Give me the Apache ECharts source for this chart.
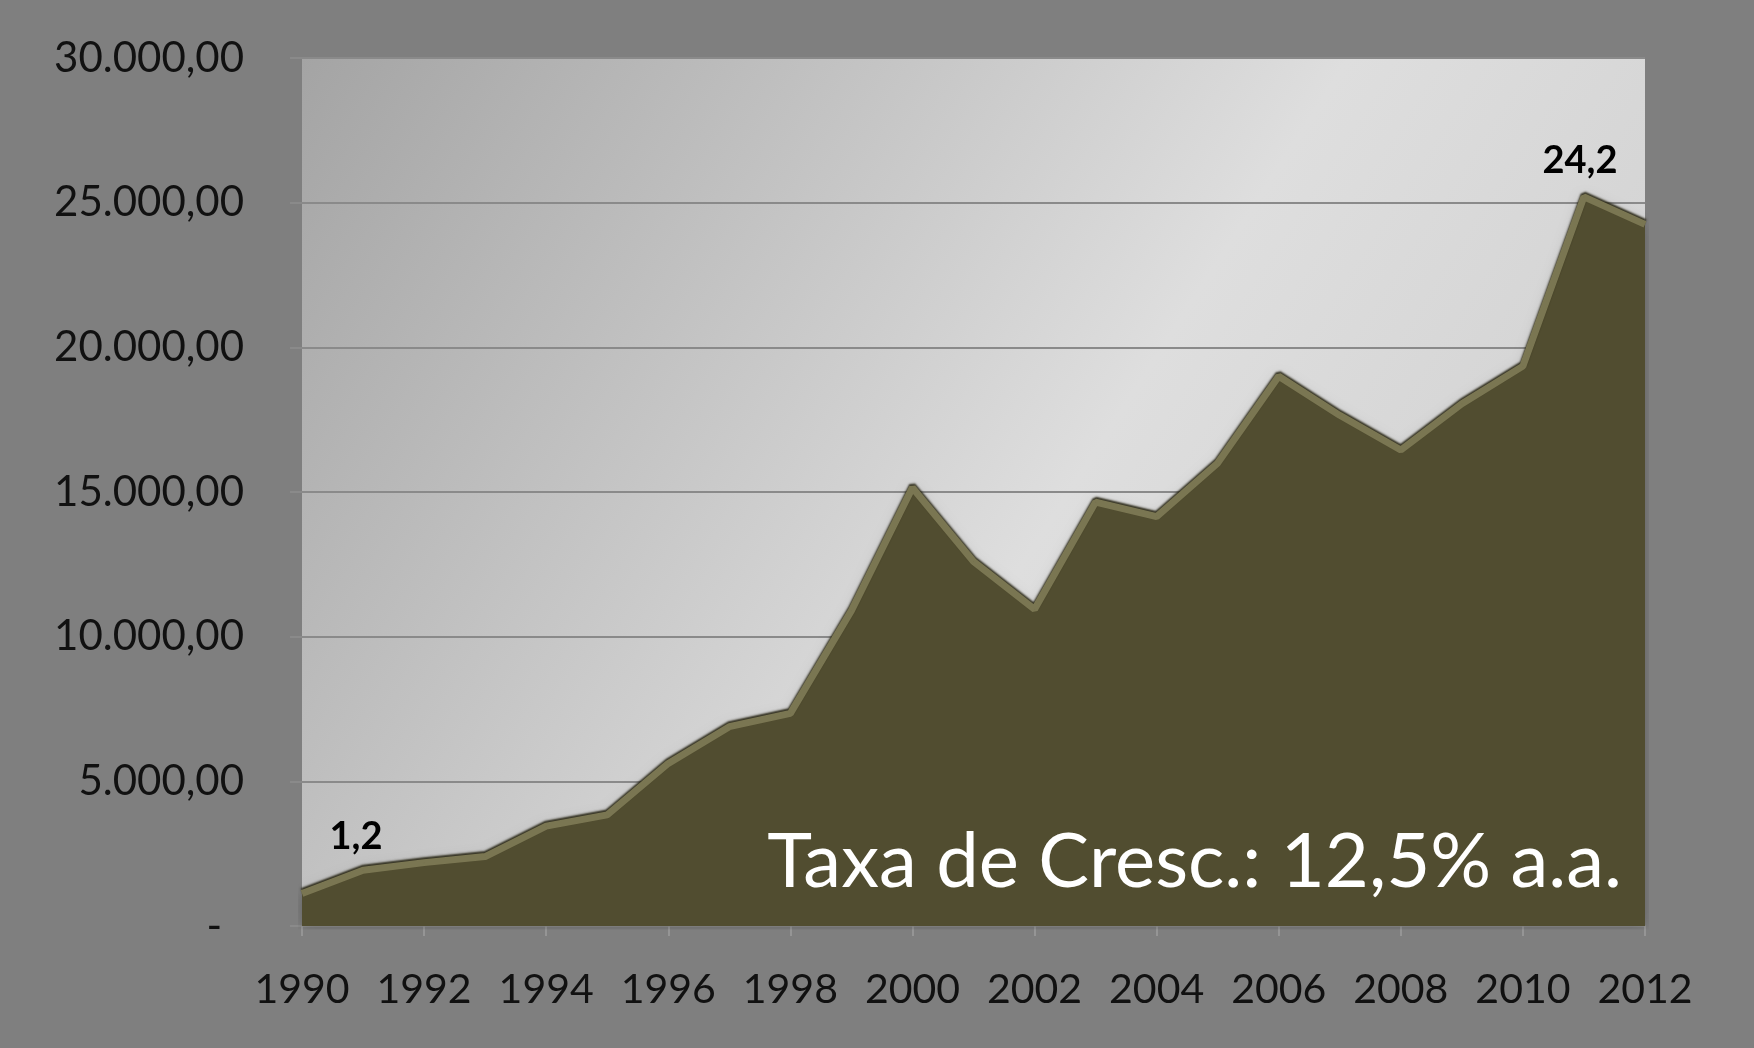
<!DOCTYPE html>
<html lang="pt">
<head>
    <meta charset="UTF-8">
    <title>Taxa de Cresc.</title>
    <style type="text/css">
    html,
    body {
        width: 100%;
        height: 100%;
        margin: 0;
        padding: 0;
        background: #808080;
    }

    #chart {
        width: 1754px;
        height: 1048px;
    }
    </style>
</head>
<body>
    <div id="chart"></div>
    <script src="https://cdn.jsdelivr.net/npm/echarts@6/dist/echarts.min.js"></script>
    <script type="text/javascript">

    // dados
    var years = ['1990', '1991', '1992', '1993', '1994', '1995', '1996', '1997', '1998', '1999', '2000', '2001',
        '2002', '2003', '2004', '2005', '2006', '2007', '2008', '2009', '2010', '2011', '2012'];
    var values = [1120, 1930, 2190, 2400, 3450, 3840, 5620, 6890, 7350, 10900, 15150, 12600,
        10950, 14650, 14150, 16000, 19000, 17650, 16450, 18050, 19350, 25200, 24250];
    var pointLabels = { 0: '1,2', 22: '24,2' };
    var yTicks = [0, 5000, 10000, 15000, 20000, 25000, 30000];
    var note = 'Taxa de Cresc.: 12,5% a.a.';

    var font = 'Lato, "Open Sans", sans-serif';

    // 30000 -> 30.000,00
    function fmtNum(v) {
        if (v == 0) return '{dash|-}';
        var s = String(Math.round(v));
        var out = '';
        while (s.length > 3) {
            out = '.' + s.slice(-3) + out;
            s = s.slice(0, -3);
        }
        return s + out + ',00';
    }

    var labelOffsets = { 0: [54, -32], 22: [-65, -39] };

    var seriesData = [];
    for (var i = 0; i < values.length; i++) {
        var item = { value: values[i] };
        if (pointLabels[i]) {
            item.label = {
                show: true,
                position: 'top',
                formatter: pointLabels[i],
                offset: labelOffsets[i],
                fontFamily: font,
                fontWeight: 'bold',
                fontSize: 38,
                color: '#000'
            };
        }
        seriesData.push(item);
    }

    var chart = echarts.init(document.getElementById('chart'));

    var option = {
        backgroundColor: '#7f7f7f',
        animation: false,
        grid: {
            left: 302,
            right: 109,
            top: 58,
            bottom: 122,
            show: true,
            borderWidth: 0,
            backgroundColor: {
                type: 'linear',
                x: 0, y: 0, x2: 1, y2: 1,
                colorStops: [
                    { offset: 0, color: '#a4a4a4' },
                    { offset: 0.55, color: '#dedede' },
                    { offset: 1, color: '#cbcbcb' }
                ]
            }
        },
        xAxis: {
            type: 'category',
            data: years,
            boundaryGap: false,
            axisLine: { lineStyle: { color: '#8d8d8d', width: 2 } },
            axisTick: { interval: 1, length: 10, lineStyle: { color: '#959595', width: 2 } },
            axisLabel: {
                interval: 1,
                margin: 43,
                fontFamily: font,
                fontSize: 41,
                color: '#111'
            },
            splitLine: { show: false }
        },
        yAxis: {
            type: 'value',
            min: yTicks[0],
            max: yTicks[yTicks.length - 1],
            interval: 5000,
            axisLine: { show: false },
            axisTick: { show: true, length: 12, lineStyle: { color: '#8a8a8a', width: 2 } },
            axisLabel: {
                margin: 58,
                fontFamily: font,
                fontSize: 42,
                color: '#111',
                formatter: fmtNum,
                rich: {
                    dash: { fontFamily: font, fontSize: 42, color: '#111', padding: [0, 22, 0, 0] }
                }
            },
            splitLine: { lineStyle: { color: '#8a8a8a', width: 2 } }
        },
        series: [{
            type: 'line',
            data: seriesData,
            symbol: 'circle',
            symbolSize: 1,
            showSymbol: true,
            itemStyle: { color: '#76724f' },
            lineStyle: {
                color: '#7a7652',
                width: 7,
                shadowColor: 'rgba(35,33,15,0.9)',
                shadowBlur: 2,
                shadowOffsetY: -2
            },
            areaStyle: {
                color: '#514d30',
                opacity: 1,
                shadowColor: 'rgba(0,0,0,0.25)',
                shadowBlur: 12
            },
            z: 3
        }],
        graphic: [{
            type: 'text',
            x: 1622,
            y: 862,
            z: 10,
            style: {
                text: note,
                fill: '#ffffff',
                font: '76px ' + font,
                align: 'right',
                verticalAlign: 'middle'
            }
        }]
    };

    chart.setOption(option);
    </script>
</body>
</html>
